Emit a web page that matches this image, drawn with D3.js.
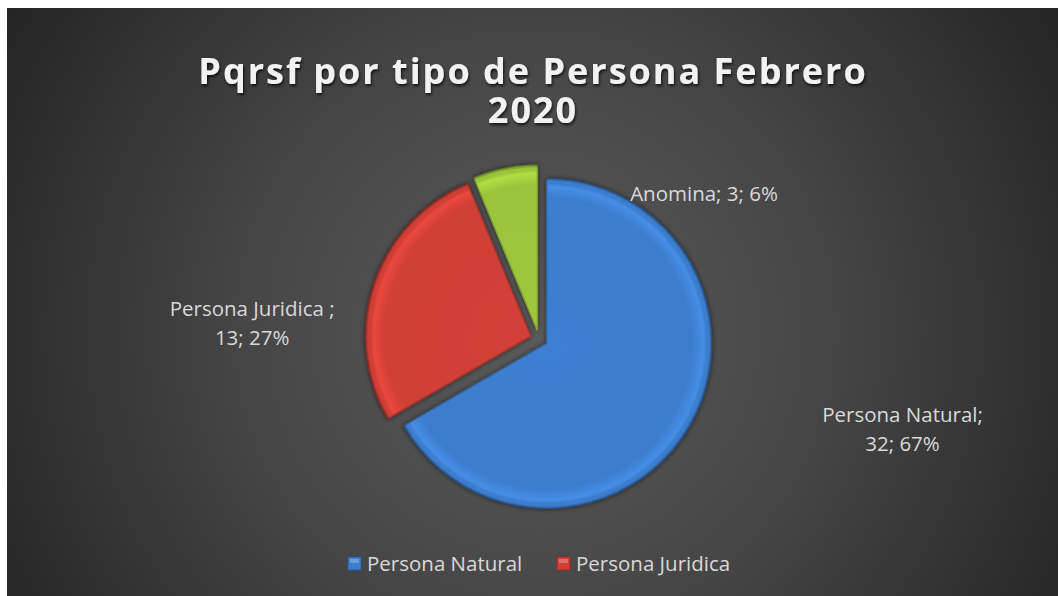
<!DOCTYPE html>
<html>
<head>
<meta charset="utf-8">
<script src="https://cdn.jsdelivr.net/npm/d3@7"></script>
<style>
  html, body { margin: 0; padding: 0; background: #ffffff; }
  svg { display: block; }
</style>
</head>
<body>
<div id="chart"></div>
<script>
// data
var categories = ["Persona Natural", "Persona Juridica ", "Anomina"];
var values = [32, 13, 3];
var legendCategories = ["Persona Natural", "Persona Juridica"];
var titleLines = ["Pqrsf por tipo de Persona Febrero", "2020"];

var palette = ["#3d7dcd", "#cf3f36", "#9bc43a"];

var width = 1058, height = 596;
var svg = d3.select("#chart").append("svg")
  .attr("width", width)
  .attr("height", height);

var defs = svg.append("defs");

// background gradient
var bg = defs.append("radialGradient")
  .attr("id", "bg")
  .attr("gradientUnits", "userSpaceOnUse")
  .attr("cx", 535).attr("cy", 330).attr("r", 620);
bg.append("stop").attr("offset", "0%").attr("stop-color", "#5a5a5a");
bg.append("stop").attr("offset", "45%").attr("stop-color", "#474747");
bg.append("stop").attr("offset", "100%").attr("stop-color", "#242424");

svg.append("rect")
  .attr("x", 7).attr("y", 8)
  .attr("width", width - 7).attr("height", height - 8)
  .attr("fill", "url(#bg)");

// shadows
var ts = defs.append("filter").attr("id", "tshadow")
  .attr("x", "-10%").attr("y", "-30%").attr("width", "120%").attr("height", "160%");
ts.append("feDropShadow").attr("dx", 1).attr("dy", 2).attr("stdDeviation", 1.6)
  .attr("flood-color", "#000").attr("flood-opacity", 0.75);

var ps = defs.append("filter").attr("id", "pshadow")
  .attr("x", "-20%").attr("y", "-20%").attr("width", "140%").attr("height", "140%");
ps.append("feDropShadow").attr("dx", 0).attr("dy", 0).attr("stdDeviation", 2.5)
  .attr("flood-color", "#000").attr("flood-opacity", 0.6);

// title, one text per line
svg.append("g")
  .attr("text-anchor", "middle")
  .attr("font-family", "'Open Sans', sans-serif")
  .attr("font-weight", "bold")
  .attr("font-size", "36px")
  .attr("letter-spacing", "2px")
  .attr("fill", "#f2f2f2")
  .attr("filter", "url(#tshadow)")
  .selectAll("text")
  .data(titleLines)
  .enter()
  .append("text")
  .attr("x", 533)
  .attr("y", (d, i) => 84 + i * 39)
  .text(d => d);

// pie
var cx = 539, cy = 339, radius = 165, explode = 9;
var total = d3.sum(values);
var pct = d3.format(".0%");

var pieData = d3.pie().sort(null).value(d => d)(values);
var arc = d3.arc().innerRadius(0).outerRadius(radius);

function offset(d, dist) {
  var a = (d.startAngle + d.endAngle) / 2;
  return [dist * Math.sin(a), -dist * Math.cos(a)];
}

pieData.forEach(function(d, i) {
  var base = d3.color(palette[i]);
  var g = defs.append("radialGradient")
    .attr("id", "slice" + i)
    .attr("gradientUnits", "userSpaceOnUse")
    .attr("cx", 0).attr("cy", 0).attr("r", radius);
  g.append("stop").attr("offset", "0%").attr("stop-color", base.brighter(0.05));
  g.append("stop").attr("offset", "88%").attr("stop-color", base);
  g.append("stop").attr("offset", "95%").attr("stop-color", base.brighter(0.35));
  g.append("stop").attr("offset", "100%").attr("stop-color", base.darker(0.6));
});

var pieGroup = svg.append("g")
  .attr("transform", `translate(${cx}, ${cy})`);

var slices = pieGroup.selectAll("g.slice")
  .data(pieData)
  .enter()
  .append("g")
  .attr("class", "slice")
  .attr("transform", d => `translate(${offset(d, explode)})`);

slices.append("path")
  .attr("d", arc)
  .attr("fill", (d, i) => `url(#slice${i})`)
  .attr("stroke", (d, i) => d3.color(palette[i]).darker(1.2))
  .attr("stroke-width", 1.2)
  .attr("stroke-linejoin", "round")
  .attr("filter", "url(#pshadow)");

// inner bevel along the straight edges
var innerArc = d3.arc().innerRadius(0).outerRadius(radius - 3);
slices.append("path")
  .attr("d", innerArc)
  .attr("fill", "none")
  .attr("stroke", (d, i) => d3.color(palette[i]).brighter(0.4))
  .attr("stroke-opacity", 0.35)
  .attr("stroke-width", 2);

// data labels (Excel best-fit positions, as angle / distance from pie centre)
var labelPlace = [
  { angle: 104.8, dist: 376, wrap: true },
  { angle: 272, dist: 287, wrap: true },
  { angle: 48.9, dist: 219, wrap: false }
];

var labels = svg.append("g")
  .attr("font-family", "'Open Sans', sans-serif")
  .attr("font-size", "20.5px")
  .attr("fill", "#d9d9d9")
  .attr("text-anchor", "middle");

pieData.forEach(function(d, i) {
  var p = labelPlace[i];
  var a = p.angle * Math.PI / 180;
  var x = cx + p.dist * Math.sin(a);
  var y = cy - p.dist * Math.cos(a);
  var valueText = d.value + "; " + pct(d.value / total);
  var lines = p.wrap ? [categories[i] + ";", valueText] : [categories[i] + "; " + valueText];
  var t = labels.append("text");
  t.selectAll("tspan")
    .data(lines)
    .enter()
    .append("tspan")
    .attr("x", x)
    .attr("y", (s, j) => y + 6 - (lines.length - 1) * 19 + j * 29)
    .text(s => s);
});

// legend
var legend = svg.append("g")
  .attr("font-family", "'Open Sans', sans-serif")
  .attr("font-size", "20.5px")
  .attr("fill", "#d9d9d9");

var legendX = d3.scaleOrdinal()
  .domain(legendCategories)
  .range([348, 557]);

var items = legend.selectAll("g")
  .data(legendCategories)
  .enter()
  .append("g")
  .attr("transform", d => `translate(${legendX(d)}, 557)`);

items.append("rect")
  .attr("width", 13).attr("height", 13)
  .attr("fill", (d, i) => palette[i])
  .attr("stroke", (d, i) => d3.color(palette[i]).darker(1))
  .attr("stroke-width", 0.8);

items.append("rect")
  .attr("x", 2).attr("y", 2)
  .attr("width", 9).attr("height", 4)
  .attr("fill", "#ffffff")
  .attr("opacity", 0.25);

items.append("text")
  .attr("x", 19)
  .attr("y", 13.5)
  .text(d => d);
</script>
</body>
</html>
